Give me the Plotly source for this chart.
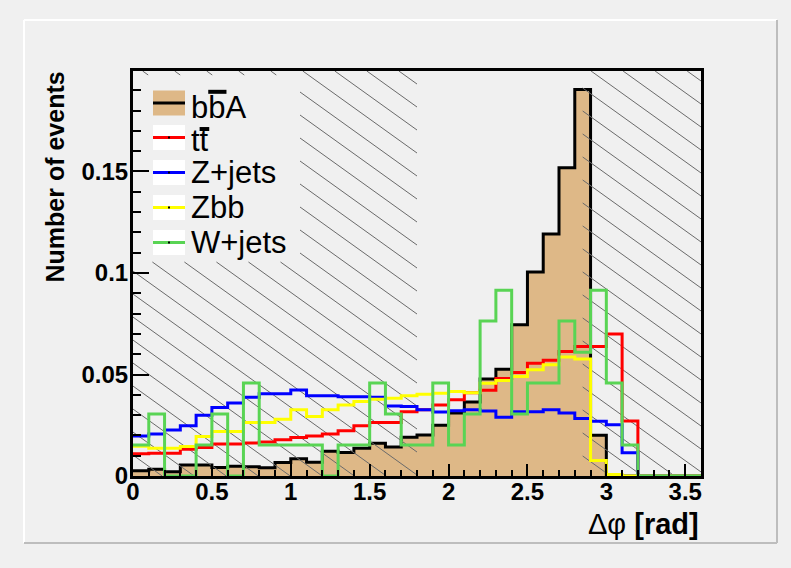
import math
import plotly.graph_objects as go

# ---------------- data ----------------
BIN_WIDTH = 0.1
N_BINS = 36

bbA = [0.0026, 0.0033, 0.0021, 0.0054, 0.0054, 0.0042, 0.0048, 0.0046, 0.0041, 0.0066,
       0.0085, 0.0068, 0.0122, 0.0116, 0.0137, 0.0161, 0.0143, 0.0191, 0.0202, 0.0250,
       0.0310, 0.0365, 0.0478, 0.0526, 0.0745, 0.1005, 0.1192, 0.1518, 0.1904, 0.0201,
       0, 0, 0, 0, 0, 0]
ttbar = [0.0109, 0.0112, 0.0112, 0.0132, 0.0140, 0.0158, 0.0158, 0.0163, 0.0167, 0.0178,
         0.0190, 0.0197, 0.0207, 0.0223, 0.0247, 0.0263, 0.0263, 0.0317, 0.0326, 0.0350,
         0.0376, 0.0410, 0.0422, 0.0480, 0.0510, 0.0556, 0.0570, 0.0613, 0.0638, 0.0638,
         0.0700, 0.0271, 0, 0, 0, 0]
zjets = [0.0197, 0.0207, 0.0227, 0.0247, 0.0299, 0.0338, 0.0359, 0.0388, 0.0405, 0.0405,
         0.0424, 0.0395, 0.0395, 0.0390, 0.0390, 0.0388, 0.0345, 0.0342, 0.0326, 0.0315,
         0.0322, 0.0326, 0.0320, 0.0290, 0.0317, 0.0317, 0.0326, 0.0310, 0.0283, 0.0270,
         0.0252, 0.0115, 0, 0, 0, 0]
zbb = [0.0147, 0.0137, 0.0137, 0.0145, 0.0194, 0.0219, 0.0219, 0.0263, 0.0263, 0.0280,
       0.0326, 0.0293, 0.0326, 0.0350, 0.0367, 0.0378, 0.0383, 0.0395, 0.0403, 0.0408,
       0.0416, 0.0410, 0.0457, 0.0470, 0.0490, 0.0523, 0.0548, 0.0586, 0.0576, 0.0076,
       0.0007, 0, 0, 0, 0, 0]
wjets = [0.0153, 0.0305, 0, 0, 0.0153, 0.0305, 0, 0.0458, 0.0153, 0.0153,
         0.0153, 0.0153, 0, 0.0153, 0.0153, 0.0458, 0.0305, 0.0153, 0.0153, 0.0458,
         0.0153, 0.0305, 0.0763, 0.0915, 0.0305, 0.0458, 0.0458, 0.0763, 0.0610, 0.0915,
         0.0458, 0.0153, 0, 0, 0, 0]

# legend labels; "bar_on" = index of the character drawn with a bar over it (ROOT #bar)
legend_labels = ["bbA", "tt", "Z+jets", "Zbb", "W+jets"]
legend_bar_on = [1, 1, None, None, None]
x_tickvals = [0, 0.5, 1, 1.5, 2, 2.5, 3, 3.5]
y_tickvals = [0, 0.05, 0.1, 0.15]
hatch_regions = [(0.0, 1.8), (2.85, 3.6)]

# ---------------- style / layout ----------------
W, H = 791, 568
ML, MR, MT, MB = 133, 90, 71, 92
PW, PH = W - ML - MR, H - MT - MB
XR = [0, 3.6]
YR = [0, 0.1995]
BG = "#f0f0f0"
FONT = "Liberation Sans, Arial, Helvetica, sans-serif"
LEG_SIZE = 31
TAN = "#deb887"
COLORS = ["black", "#ff0000", "#0000ff", "#ffff00", "#59d454"]
# Arial / Liberation Sans advance widths (em) for the bar placement
CHAR_W = {"b": 0.556, "t": 0.278}
BAR_RAISE = {"b": 0.49, "t": 0.37}   # bar centre above text centre, in em
TEXT_DROP = [4, 3, 0, 0, 0]          # barred labels sit a little lower (as in ROOT)

kx = PW / (XR[1] - XR[0])
ky = PH / (YR[1] - YR[0])


def px2x(px):
    return (px - ML) / PW


def py2y(py):
    return (H - MB - py) / PH


edges = [round(i * BIN_WIDTH, 6) for i in range(N_BINS + 1)]


def steps(vals):
    return edges, list(vals) + [vals[-1]]


fig = go.Figure()

# signal, filled
ex, ey = steps(bbA)
fig.add_trace(go.Scatter(x=ex, y=ey, mode="lines", line_shape="hv", fill="tozeroy",
                         fillcolor=TAN, line=dict(color="black", width=3),
                         showlegend=False, hoverinfo="skip"))

# hatch pattern (computed from the hatched x-ranges), avoiding the legend box
HATCH_SLOPE_PX = H / W
HATCH_SPACING_PX = 23.0
m = HATCH_SLOPE_PX * kx / ky
dv = HATCH_SPACING_PX / ky
phase = 0.0103
leg_hole = (0.0, (300 - ML) / kx, (H - MB - 262) / ky, (H - MB - 75) / ky)

hx, hy = [], []
for (xa, xb) in hatch_regions:
    y0, y1 = YR
    bmin = y0 + m * xa
    bmax = y1 + m * xb
    k0 = math.floor((bmin - phase) / dv) - 1
    k1 = math.ceil((bmax - phase) / dv) + 1
    for k in range(k0, k1 + 1):
        b = phase + k * dv
        lo = max(xa, (b - y1) / m)
        hi = min(xb, (b - y0) / m)
        if hi <= lo:
            continue
        hx0, hx1, hy0, hy1 = leg_hole
        hlo = max(hx0, (b - hy1) / m)
        hhi = min(hx1, (b - hy0) / m)
        pieces = []
        if hhi <= hlo or hhi <= lo or hlo >= hi:
            pieces.append((lo, hi))
        else:
            if hlo > lo:
                pieces.append((lo, hlo))
            if hhi < hi:
                pieces.append((hhi, hi))
        for (a, c) in pieces:
            hx += [a, c, None]
            hy += [b - m * a, b - m * c, None]

fig.add_trace(go.Scatter(x=hx, y=hy, mode="lines", line=dict(color="#6a6a6a", width=1),
                         showlegend=False, hoverinfo="skip"))

for vals, col in zip([ttbar, zjets, zbb, wjets], COLORS[1:]):
    sx, sy = steps(vals)
    fig.add_trace(go.Scatter(x=sx, y=sy, mode="lines", line_shape="hv",
                             line=dict(color=col, width=3),
                             showlegend=False, hoverinfo="skip"))

shapes = []
annotations = []

# canvas bevel
shapes += [
    dict(type="line", xref="paper", yref="paper", x0=px2x(24), x1=px2x(777), y0=py2y(20), y1=py2y(20),
         line=dict(color="white", width=2)),
    dict(type="line", xref="paper", yref="paper", x0=px2x(24), x1=px2x(24), y0=py2y(20), y1=py2y(543),
         line=dict(color="white", width=2)),
    dict(type="line", xref="paper", yref="paper", x0=px2x(777), x1=px2x(777), y0=py2y(20), y1=py2y(543),
         line=dict(color="#bdbdbd", width=2)),
    dict(type="line", xref="paper", yref="paper", x0=px2x(24), x1=px2x(777), y0=py2y(543), y1=py2y(543),
         line=dict(color="#bdbdbd", width=2)),
]

# legend
LEG_TEXT_X = 189
leg_cy = [103, 137.5, 172.5, 207.5, 242.5]
for i, (lab, cy) in enumerate(zip(legend_labels, leg_cy)):
    fill = TAN if i == 0 else "white"
    shapes.append(dict(type="rect", xref="paper", yref="paper",
                       x0=px2x(153), x1=px2x(185), y0=py2y(cy - 12.5), y1=py2y(cy + 12.5),
                       fillcolor=fill, line=dict(width=0), layer="above"))
    shapes.append(dict(type="line", xref="paper", yref="paper",
                       x0=px2x(153), x1=px2x(185), y0=py2y(cy), y1=py2y(cy),
                       line=dict(color=COLORS[i], width=3), layer="above"))
    if i > 0:
        shapes.append(dict(type="rect", xref="paper", yref="paper",
                           x0=px2x(168), x1=px2x(170), y0=py2y(cy - 1), y1=py2y(cy + 1),
                           fillcolor="black", line=dict(width=0), layer="above"))
    j = legend_bar_on[i]
    ty = cy + TEXT_DROP[i]
    annotations.append(dict(text=lab, xref="paper", yref="paper", x=px2x(LEG_TEXT_X), y=py2y(ty),
                            xanchor="left", yanchor="middle", showarrow=False,
                            font=dict(family=FONT, size=LEG_SIZE, color="black")))
    if j is not None:
        start = LEG_TEXT_X + 2 + sum(CHAR_W[c] for c in lab[:j]) * LEG_SIZE
        width = CHAR_W[lab[j]] * LEG_SIZE + 1
        bar_y = ty - BAR_RAISE[lab[j]] * LEG_SIZE
        shapes.append(dict(type="line", xref="paper", yref="paper",
                           x0=px2x(start), x1=px2x(start + width),
                           y0=py2y(bar_y), y1=py2y(bar_y),
                           line=dict(color="black", width=4), layer="above"))

# axis titles
annotations.append(dict(text="Number of events", xref="paper", yref="paper",
                        x=px2x(54), y=py2y(70), xanchor="center", yanchor="top",
                        textangle=-90, showarrow=False,
                        font=dict(family=FONT, size=25, color="black", weight=700)))
annotations.append(dict(text="Δφ <b>[rad]</b>", xref="paper", yref="paper",
                        x=px2x(701), y=py2y(506), xanchor="right", yanchor="top",
                        showarrow=False,
                        font=dict(family=FONT, size=29, color="black")))

axis_common = dict(showgrid=False, zeroline=False, showline=True, linecolor="black",
                   linewidth=3, mirror=True, ticks="inside", tickcolor="black",
                   tickwidth=2, tickfont=dict(family=FONT, size=24, color="black", weight=700))

fig.update_layout(
    width=W, height=H,
    margin=dict(l=ML, r=MR, t=MT, b=MB, pad=0),
    paper_bgcolor=BG, plot_bgcolor=BG,
    xaxis=dict(range=XR, tickvals=x_tickvals, ticklen=12, ticklabelstandoff=-8,
               minor=dict(dtick=0.1, tick0=0, ticks="inside", ticklen=6, tickwidth=2, tickcolor="black"),
               **axis_common),
    yaxis=dict(range=YR, tickvals=y_tickvals, ticklen=16, ticklabelstandoff=-3,
               minor=dict(dtick=0.01, tick0=0, ticks="inside", ticklen=8, tickwidth=2, tickcolor="black"),
               **axis_common),
    shapes=shapes,
    annotations=annotations,
    showlegend=False,
)

fig.write_html("out.html", config={"displayModeBar": False},
               post_script="document.body.style.margin='0px';"
                           "document.body.style.background='#f0f0f0';")
